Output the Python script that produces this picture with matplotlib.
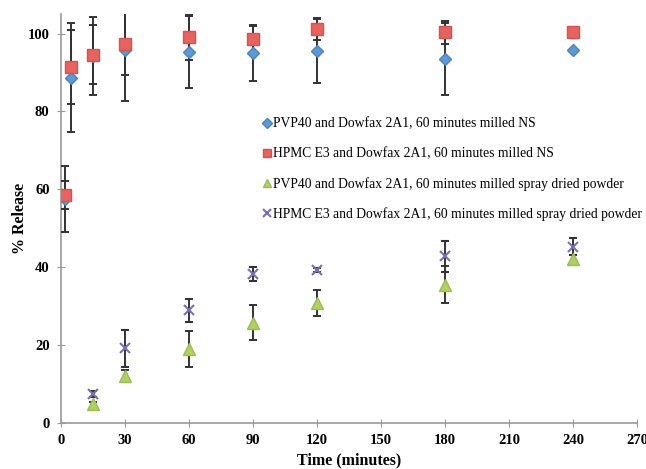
import numpy as np
import matplotlib
matplotlib.use('Agg')
import matplotlib.pyplot as plt

plt.rcParams['font.family'] = 'Liberation Serif'

# nanosuspensions
t_ns = [2, 5, 15, 30, 60, 90, 120, 180, 240]
pvp_ns = [57.6, 88.6, 94.3, 95.9, 95.3, 94.9, 95.5, 93.5, 95.9]
pvp_ns_err = [8.5, 14.0, 10.0, 13.3, 9.3, 7.0, 8.2, 9.2, 0.0]
hpmc_ns = [58.6, 91.3, 94.6, 97.3, 99.1, 98.7, 101.2, 100.3, 100.4]
hpmc_ns_err = [3.6, 9.5, 7.5, 8.0, 6.0, 3.4, 2.8, 3.0, 0.0]

# spray dried powders
t_sd = [15, 30, 60, 90, 120, 180, 240]
pvp_sd = [4.8, 12.2, 19.0, 25.8, 30.8, 35.5, 42.2]
pvp_sd_err = [0.6, 1.5, 4.6, 4.6, 3.3, 4.7, 1.0]
hpmc_sd = [7.4, 19.2, 28.9, 38.2, 39.3, 42.8, 45.3]
hpmc_sd_err = [0.7, 4.7, 2.9, 1.8, 0.6, 4.0, 2.2]

labels = ['PVP40 and Dowfax 2A1, 60 minutes milled NS',
          'HPMC E3 and Dowfax 2A1, 60 minutes milled NS',
          'PVP40 and Dowfax 2A1, 60 minutes milled spray dried powder',
          'HPMC E3 and Dowfax 2A1, 60 minutes milled spray dried powder']

fig = plt.figure(figsize=(6.46, 4.69), dpi=100)
ax = fig.add_axes([0.094, 0.098, 0.892, 0.872])

ebkw = dict(ecolor='#333333', elinewidth=1.4, capsize=3, capthick=1.4, linestyle='none')

h1 = ax.errorbar(t_ns, pvp_ns, yerr=pvp_ns_err, marker='D', ms=6, mfc='#5b9bd5',
                 mec='#4f81bd', label=labels[0], zorder=3, **ebkw)
h2 = ax.errorbar(t_ns, hpmc_ns, yerr=hpmc_ns_err, marker='s', ms=8, mfc='#e8625f',
                 mec='#d05550', label=labels[1], zorder=3, **ebkw)
h3 = ax.errorbar(t_sd, pvp_sd, yerr=pvp_sd_err, marker='^', ms=8, mfc='#b3cf5e',
                 mec='#9bbb59', label=labels[2], zorder=3, **ebkw)
h4 = ax.errorbar(t_sd, hpmc_sd, yerr=hpmc_sd_err, marker='x', ms=7, mew=1.5,
                 mec='#7a6fb0', label=labels[3], zorder=3, **ebkw)

ax.set_xlim(0, 270)
ax.set_ylim(0, 105)
ax.set_xticks(np.arange(0, 271, 30))
ax.set_yticks(np.arange(0, 101, 20))

for s in ['top', 'right']:
    ax.spines[s].set_visible(False)
for s in ['left', 'bottom']:
    ax.spines[s].set_color('#999999')
    ax.spines[s].set_linewidth(1.2)
ax.tick_params(axis='both', direction='inout', length=6, color='#999999',
               labelsize=10.5, pad=5)
for lab in ax.get_xticklabels() + ax.get_yticklabels():
    lab.set_fontweight('bold')

ax.set_xlabel('Time (minutes)', fontsize=11.5, fontweight='bold', labelpad=4)
ax.set_ylabel('% Release', fontsize=11.5, fontweight='bold', labelpad=0)

leg_handles = [h[0] for h in (h1, h2, h3, h4)]
ax.legend(leg_handles, labels, loc='upper left', bbox_to_anchor=(0.341, 0.76),
          frameon=False, fontsize=9.8, handlelength=0.6, handletextpad=0.15,
          labelspacing=1.22, markerscale=0.8, borderaxespad=0)

fig.savefig('out.png', dpi=100)
